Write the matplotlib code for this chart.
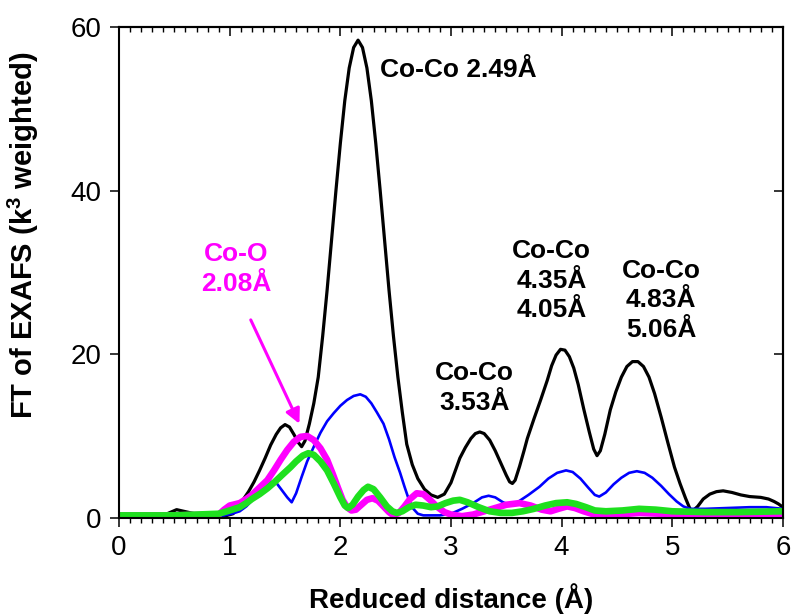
import matplotlib
matplotlib.use("Agg")
import matplotlib.pyplot as plt
from matplotlib.ticker import MultipleLocator

plt.rcParams['font.family'] = ['Liberation Sans', 'DejaVu Sans']

# FT magnitude curves, r in Angstrom
r_black = [0.0, 0.2, 0.4, 0.52, 0.65, 0.82, 0.95, 1.03, 1.08, 1.12, 1.17, 1.22, 1.27, 1.32,
           1.37, 1.42, 1.46, 1.5, 1.54, 1.58, 1.62, 1.65, 1.68, 1.72, 1.76, 1.80, 1.84, 1.88,
           1.92, 1.96, 2.00, 2.04, 2.08, 2.12, 2.16, 2.20, 2.24, 2.28, 2.32, 2.36, 2.40,
           2.44, 2.48, 2.52, 2.56, 2.60, 2.65, 2.70, 2.76, 2.82, 2.88, 2.94, 3.0, 3.04,
           3.08, 3.13, 3.18, 3.22, 3.26, 3.30, 3.35, 3.40, 3.45, 3.50, 3.53, 3.555, 3.58,
           3.62, 3.66, 3.69, 3.75, 3.81, 3.87, 3.91, 3.95, 3.99, 4.03, 4.07, 4.11, 4.15,
           4.20, 4.25, 4.29, 4.32, 4.35, 4.39, 4.44, 4.49, 4.54, 4.59, 4.64, 4.69, 4.74,
           4.79, 4.84, 4.90, 4.96, 5.02, 5.07, 5.12, 5.16, 5.19, 5.23, 5.28, 5.34, 5.40,
           5.46, 5.54, 5.62, 5.70, 5.80, 5.87, 5.92, 5.96, 6.0]
ft_black = [0.3, 0.4, 0.3, 1.0, 0.6, 0.1, 0.2, 0.5, 1.3, 2.2, 3.2, 4.4, 5.8, 7.3,
            8.9, 10.2, 11.0, 11.4, 11.1, 10.2, 9.2, 8.7, 9.4, 11.5, 14.0, 17.2, 22.2, 27.8,
            33.9, 40.0, 45.8, 51.0, 55.0, 57.5, 58.4, 57.5, 55.0, 51.0, 45.8, 40.0, 33.9,
            27.8, 22.2, 17.2, 12.9, 9.0, 6.5, 4.8, 3.5, 2.8, 2.5, 2.9, 4.3, 5.8,
            7.3, 8.6, 9.7, 10.3, 10.5, 10.3, 9.5, 8.2, 6.7, 5.2, 4.4, 4.2, 4.6,
            6.3, 8.2, 9.7, 12.1, 14.4, 16.8, 18.6, 19.9, 20.6, 20.5, 19.7, 18.3, 16.3,
            13.3, 10.5, 8.4, 7.6, 8.2, 10.2, 13.2, 15.4, 17.2, 18.5, 19.1, 19.1, 18.5,
            17.2, 15.2, 12.3, 9.2, 6.2, 4.2, 2.4, 1.1, 0.9, 1.4, 2.3, 2.9, 3.2,
            3.3, 3.1, 2.8, 2.6, 2.5, 2.3, 2.0, 1.7, 1.3]

r_blue = [0.0, 0.5, 0.88, 0.95, 1.02, 1.09, 1.15, 1.2, 1.26, 1.32, 1.38, 1.42, 1.47, 1.52,
          1.56, 1.6, 1.65, 1.7, 1.76, 1.82, 1.88, 1.94, 2.0, 2.06, 2.12, 2.18, 2.23, 2.28,
          2.33, 2.39, 2.44, 2.49, 2.54, 2.58, 2.62, 2.66, 2.7, 2.75, 2.9, 3.0, 3.1, 3.2,
          3.28, 3.34, 3.4, 3.47, 3.53, 3.6, 3.7, 3.8, 3.88, 3.96, 4.04, 4.1, 4.17, 4.24,
          4.3, 4.34, 4.4, 4.47, 4.54, 4.61, 4.68, 4.75, 4.82, 4.9, 4.97, 5.04, 5.1, 5.16,
          5.3, 5.5, 5.7, 5.85, 6.0]
ft_blue = [0.2, 0.2, 0.2, 0.3, 0.5, 0.8, 1.4, 2.1, 3.1, 4.0, 4.4, 4.3, 3.4, 2.5,
           1.9, 3.0, 5.0, 6.9, 8.7, 10.4, 11.8, 12.8, 13.7, 14.4, 14.9, 15.1, 14.8, 14.0,
           12.9, 11.5, 9.6, 7.4, 5.5, 3.8, 2.2, 1.1, 0.5, 0.3, 0.3, 0.5, 1.1, 1.8,
           2.5, 2.7, 2.5, 1.9, 1.6, 1.9, 2.8, 3.8, 4.8, 5.5, 5.8, 5.6, 4.8, 3.7,
           2.8, 2.6, 3.1, 4.1, 4.9, 5.5, 5.7, 5.5, 4.9, 3.9, 2.9, 2.0, 1.4, 1.1,
           1.1, 1.2, 1.3, 1.3, 1.1]

r_magenta = [0.0, 0.5, 0.9, 0.95, 1.0, 1.09, 1.15, 1.2, 1.27, 1.34, 1.4, 1.46, 1.52, 1.58,
             1.64, 1.7, 1.76, 1.82, 1.88, 1.93, 1.98, 2.02, 2.06, 2.1, 2.14, 2.19, 2.24,
             2.29, 2.34, 2.39, 2.44, 2.48, 2.53, 2.58, 2.63, 2.69, 2.75, 2.81, 2.87, 2.94,
             3.0, 3.1, 3.2, 3.3, 3.4, 3.5, 3.62, 3.72, 3.82, 3.9, 3.97, 4.05, 4.12, 4.2,
             4.32, 4.5, 4.7, 4.9, 5.2, 5.5, 5.8, 6.0]
ft_magenta = [0.3, 0.3, 0.4, 1.0, 1.5, 1.8, 2.3, 2.8, 3.7, 4.6, 5.8, 7.1, 8.3, 9.3,
              9.9, 10.0, 9.5, 8.5, 7.1, 5.4, 3.6, 2.2, 1.3, 0.9, 1.0, 1.6, 2.2,
              2.4, 2.1, 1.4, 0.7, 0.3, 0.6, 1.4, 2.3, 3.0, 2.9, 2.2, 1.4, 0.7,
              0.4, 0.2, 0.4, 0.8, 1.2, 1.6, 1.8, 1.5, 1.0, 0.8, 1.1, 1.4, 1.2, 0.8,
              0.3, 0.4, 0.6, 0.5, 0.4, 0.5, 0.5, 0.4]

r_green = [0.0, 0.5, 0.9, 1.0, 1.09, 1.15, 1.2, 1.27, 1.34, 1.4, 1.47, 1.55, 1.6, 1.66,
           1.71, 1.76, 1.82, 1.88, 1.94, 2.0, 2.04, 2.07, 2.11, 2.16, 2.21, 2.25, 2.3,
           2.36, 2.42, 2.47, 2.51, 2.56, 2.62, 2.68, 2.75, 2.82, 2.88, 2.95, 3.02, 3.08,
           3.15, 3.25, 3.35, 3.45, 3.55, 3.65, 3.75, 3.85, 3.95, 4.05, 4.13, 4.22, 4.3,
           4.4, 4.55, 4.7, 4.85, 5.0, 5.3, 5.6, 6.0]
ft_green = [0.3, 0.3, 0.5, 0.9, 1.3, 1.8, 2.3, 2.9, 3.6, 4.3, 5.2, 6.2, 6.9, 7.6,
            7.9, 7.7, 6.9, 5.8, 4.2, 2.5, 1.5, 1.2, 1.6, 2.6, 3.4, 3.8, 3.5,
            2.5, 1.4, 0.8, 0.6, 0.8, 1.3, 1.6, 1.5, 1.3, 1.4, 1.8, 2.1, 2.2,
            1.9, 1.3, 0.8, 0.6, 0.6, 0.8, 1.1, 1.5, 1.8, 1.9, 1.7, 1.3, 0.9,
            0.8, 0.9, 1.1, 1.0, 0.8, 0.7, 0.7, 0.8]

fig = plt.figure(figsize=(7.94, 6.15), dpi=100)
ax = fig.add_axes([0.150, 0.158, 0.836, 0.798])

ax.plot(r_black, ft_black, color='black', lw=2.3, solid_joinstyle='round')
ax.plot(r_blue, ft_blue, color='#0000ff', lw=1.9, solid_joinstyle='round')
ax.plot(r_magenta, ft_magenta, color='#ff00ff', lw=4.8, solid_joinstyle='round')
ax.plot(r_green, ft_green, color='#1ee01e', lw=4.8, solid_joinstyle='round')

ax.set_xlim(0, 6)
ax.set_ylim(0, 60)
for s in ax.spines.values():
    s.set_linewidth(1.5)

ax.xaxis.set_major_locator(MultipleLocator(1))
ax.xaxis.set_minor_locator(MultipleLocator(0.1))
ax.yaxis.set_major_locator(MultipleLocator(20))
ax.tick_params(which='major', direction='out', length=6.5, width=1.1, labelsize=20, pad=6)
ax.tick_params(which='minor', direction='out', length=3.6, width=1.0)

# inward ticks on the top and right frame, no labels
top = ax.secondary_xaxis('top')
top.xaxis.set_major_locator(MultipleLocator(1))
top.xaxis.set_minor_locator(MultipleLocator(0.1))
top.tick_params(which='major', direction='in', length=6.5, width=1.1, labeltop=False)
top.tick_params(which='minor', direction='in', length=3.6, width=1.0)
top.spines['top'].set_linewidth(1.5)

right = ax.secondary_yaxis('right')
right.yaxis.set_major_locator(MultipleLocator(20))
right.tick_params(which='major', direction='in', length=6.5, width=1.1, labelright=False)
right.spines['right'].set_linewidth(1.5)

ax.set_xlabel('Reduced distance (Å)', fontsize=20, fontweight='bold')
ax.xaxis.set_label_coords(0.5, -0.133)
ax.set_ylabel('FT of EXAFS (k$^{\\mathregular{3}}$ weighted)', fontsize=21,
              fontweight='bold')
ax.yaxis.set_label_coords(-0.117, 0.575)

lbl = dict(fontsize=19, fontweight='bold', linespacing=1.3)
ax.text(2.36, 54.8, 'Co-Co 2.49Å', ha='left', va='center', **lbl)
ax.text(3.21, 15.9, 'Co-Co\n3.53Å', ha='center', va='center', **lbl)
ax.text(3.91, 29.0, 'Co-Co\n4.35Å\n4.05Å', ha='center', va='center', **lbl)
ax.text(4.90, 26.6, 'Co-Co\n4.83Å\n5.06Å', ha='center', va='center', **lbl)
ax.text(1.06, 30.4, 'Co-O\n2.08Å', ha='center', va='center', color='#ff00ff', **lbl)

ax.annotate('', xy=(1.63, 11.5), xytext=(1.19, 24.2),
            arrowprops=dict(arrowstyle='-|>', color='#ff00ff', lw=2.2,
                            mutation_scale=22, shrinkA=0, shrinkB=0))

fig.savefig('out.png', dpi=100)
